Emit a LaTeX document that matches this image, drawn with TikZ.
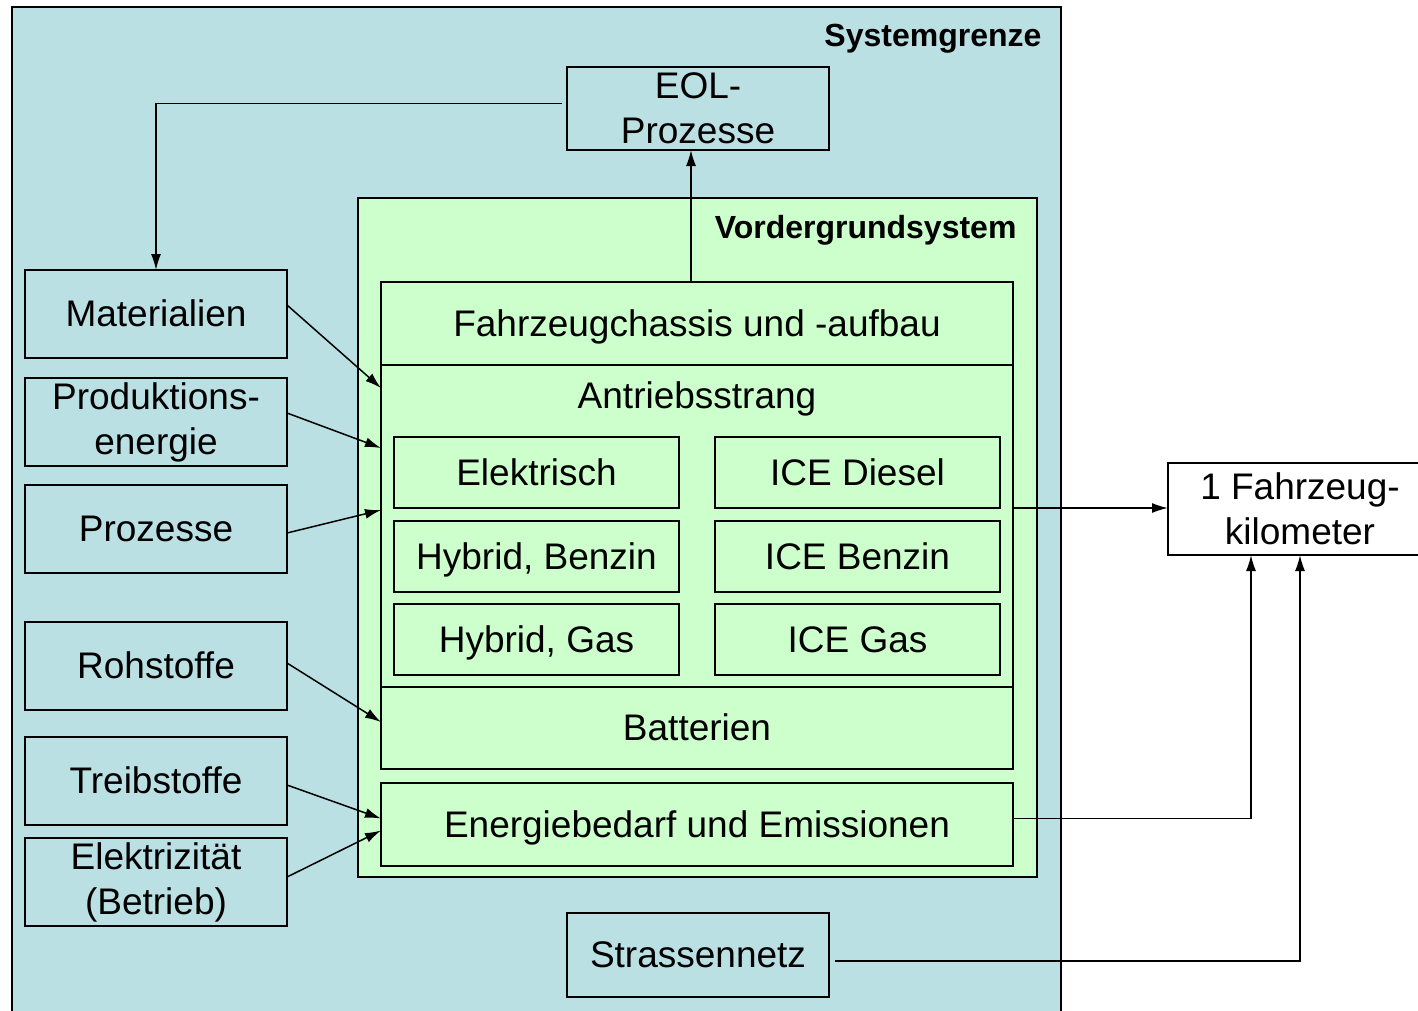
\documentclass[tikz,border=0pt]{standalone}
\usepackage{fontspec}
\setmainfont{Liberation Sans}
\usetikzlibrary{calc,arrows.meta}
\definecolor{sysblue}{RGB}{186,224,227}
\definecolor{fggreen}{RGB}{204,255,204}
\def\boxfont{\fontsize{37}{45}\selectfont}
\def\headfont{\fontsize{32}{38}\selectfont\bfseries}

\begin{document}
\begin{tikzpicture}[x=1pt,y=-1pt,
  box/.style={draw, line width=1.4pt, inner sep=0pt, outer sep=0pt, align=center, font=\boxfont},
  oneline/.style={text height=33.5pt, text depth=7.8pt},
  sidebox/.style={box, minimum width=262pt, minimum height=88pt},
  panel/.style={box, oneline, fill=fggreen, minimum width=632pt, minimum height=83pt},
  drive/.style={box, oneline, minimum width=285pt, minimum height=71pt},
  flow/.style={line width=1.5pt, -{Latex[length=16pt,width=10pt]}}]

  \useasboundingbox (0,0) rectangle (1418,1010);

  % Systemgrenze
  \fill[sysblue] (12,7) rectangle (1061,1015);
  \draw[line width=1.4pt] (12,1015) |- (1061,7) -- (1061,1015);
  \node[font=\headfont, anchor=east] (sysname) at (1045,39) {Systemgrenze};

  % Vordergrundsystem
  \node[box, fill=fggreen, minimum width=679pt, minimum height=679pt] (vgs) at (697.5,537.5) {};
  \node[font=\headfont, anchor=east] (vgsname) at (1020,230) {Vordergrundsystem};

  \node[box, minimum width=262pt, minimum height=83pt] (eol) at (698,108.5) {EOL-\\Prozesse};

  \node[panel] (chassis) at (697,323.5) {Fahrzeugchassis und -aufbau};
  \node[panel, minimum height=322pt, text height=0pt, text depth=0pt] (antrieb) at (697,526) {};
  \node[font=\boxfont, oneline] (antname) at (697,396) {Antriebsstrang};
  \node[drive] (elek) at (536.5,472.5) {Elektrisch};
  \node[drive] (hbenz) at (536.5,556.5) {Hybrid, Benzin};
  \node[drive] (hgas) at (536.5,639.5) {Hybrid, Gas};
  \node[drive] (diesel) at (857.5,472.5) {ICE Diesel};
  \node[drive] (benzin) at (857.5,556.5) {ICE Benzin};
  \node[drive] (gas) at (857.5,639.5) {ICE Gas};
  \node[panel, minimum height=82pt] (batt) at (697,728) {Batterien};
  \node[panel] (energie) at (697,824.5) {Energiebedarf und Emissionen};

  \node[box, oneline, minimum width=262pt, minimum height=84pt] (strasse) at (698,955) {Strassennetz};

  % Inputs
  \node[sidebox, oneline] (mat) at (156,314) {Materialien};
  \node[sidebox] (prod) at (156,422) {Produktions-\\energie};
  \node[sidebox, oneline] (proz) at (156,529) {Prozesse};
  \node[sidebox, oneline] (roh) at (156,666) {Rohstoffe};
  \node[sidebox, oneline] (treib) at (156,781) {Treibstoffe};
  \node[sidebox] (elec) at (156,882) {Elektrizität\\(Betrieb)};

  % funktionelle Einheit
  \node[box, fill=white, minimum width=264pt, minimum height=92pt] (fkm) at (1300,509) {1 Fahrzeug-\\kilometer};

  \draw[flow] ($(eol.west)+(-5,-5)$) -| (mat.north);
  \draw[flow] ($(chassis.north)+(-6,0)$) -- ($(eol.south)+(-7,0)$);

  \draw[flow] ($(mat.east)+(0,-9)$) -- ($(antrieb.north west)+(0,23)$);
  \draw[flow] ($(prod.east)+(0,-9)$) -- ($(antrieb.north west)+(0,83)$);
  \draw[flow] ($(proz.east)+(0,4)$) -- ($(antrieb.north west)+(0,145)$);
  \draw[flow] ($(roh.east)+(0,-3)$) -- ($(batt.west)+(0,-6)$);
  \draw[flow] ($(treib.east)+(0,4)$) -- ($(energie.west)+(0,-6)$);
  \draw[flow] ($(elec.east)+(0,-5)$) -- ($(energie.west)+(0,6)$);

  \draw[flow] (antrieb.east |- 0,508) -- (fkm.west |- 0,508);
  \draw[flow] ($(energie.east)+(0,-6)$) -| ($(fkm.south)+(-49,0)$);
  \draw[flow] ($(strasse.east)+(6,6)$) -| (fkm.south);

\end{tikzpicture}
\end{document}
